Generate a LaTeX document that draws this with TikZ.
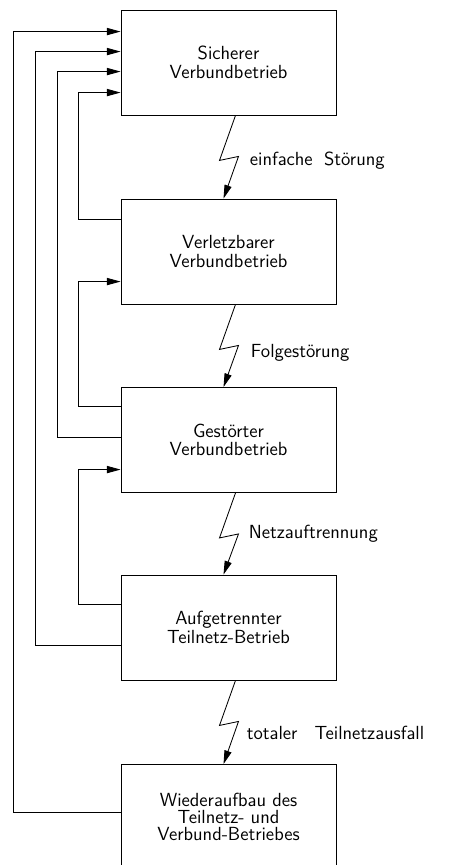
\documentclass[tikz,border=0pt]{standalone}
\usetikzlibrary{arrows.meta,calc}

\begin{document}
\begin{tikzpicture}[x=0.025cm, y=-0.025cm, line width=0.6pt,
    >={Triangle[length=3.4mm, width=1.8mm]},
    zustand/.style={draw, minimum width=5.375cm, minimum height=2.625cm,
      align=center, font=\sffamily\fontsize{13.5}{13.2}\selectfont},
    ereignis/.style={anchor=west, inner sep=0pt,
      font=\sffamily\fontsize{13.5}{13.2}\selectfont}]
  \useasboundingbox (0,0) rectangle (448,865);

  % Zustaende
  \node[zustand] (b1) at (228.5,62.5) {Sicherer\\Verbundbetrieb};
  \node[zustand] (b2) at (228.5,251.5) {Verletzbarer\\Verbundbetrieb};
  \node[zustand] (b3) at (228.5,440) {Gestörter\\Verbundbetrieb};
  \node[zustand] (b4) at (228.5,627.5) {Aufgetrennter\\Teilnetz-Betrieb};
  \node[zustand, font=\sffamily\fontsize{13.5}{12}\selectfont] (b5) at (228.5,817)
    {Wiederaufbau des\\Teilnetz- und\\Verbund-Betriebes};

  % Stoerungen
  \draw[->] ($(b1.south)+(7,0)$) -- ($(b1.south)+(-9,45)$) -- ($(b1.south)+(10,41)$) -- ($(b2.north)+(-5,0)$);
  \draw[->] ($(b2.south)+(7,0)$) -- ($(b2.south)+(-9,45)$) -- ($(b2.south)+(10,41)$) -- ($(b3.north)+(-5,0)$);
  \draw[->] ($(b3.south)+(7,0)$) -- ($(b3.south)+(-9,45)$) -- ($(b3.south)+(10,41)$) -- ($(b4.north)+(-5,0)$);
  \draw[->] ($(b4.south)+(7,0)$) -- ($(b4.south)+(-9,45)$) -- ($(b4.south)+(10,41)$) -- ($(b5.north)+(-5,0)$);
  \node[ereignis] (e1) at ($(b1.south)+(21,45)$) {einfache\hspace{0.6em}Störung};
  \node[ereignis] (e2) at ($(b2.south)+(22,48)$) {Folgestörung};
  \node[ereignis] (e3) at ($(b3.south)+(20,41)$) {Netzauftrennung};
  \node[ereignis] (e4) at ($(b4.south)+(18,52)$) {totaler\hspace{0.9em}Teilnetzausfall};

  % Rueckfuehrungen
  \draw[->] ($(b2.north west)+(0,21)$) -- ++(-42,0) |- ($(b1.north west)+(0,83)$);
  \draw[->] ($(b3.north west)+(0,19.5)$) -- ++(-42,0) |- ($(b2.north west)+(0,83)$);
  \draw[->] ($(b3.north west)+(0,50.5)$) -- ++(-63,0) |- ($(b1.north west)+(0,62)$);
  \draw[->] ($(b4.north west)+(0,30)$) -- ++(-42,0) |- ($(b3.north west)+(0,82.5)$);
  \draw[->] ($(b4.north west)+(0,71)$) -- ++(-85,0) |- ($(b1.north west)+(0,42)$);
  \draw[->] ($(b5.north west)+(0,48.5)$) -- ++(-107,0) |- ($(b1.north west)+(0,22)$);
\end{tikzpicture}
\end{document}
